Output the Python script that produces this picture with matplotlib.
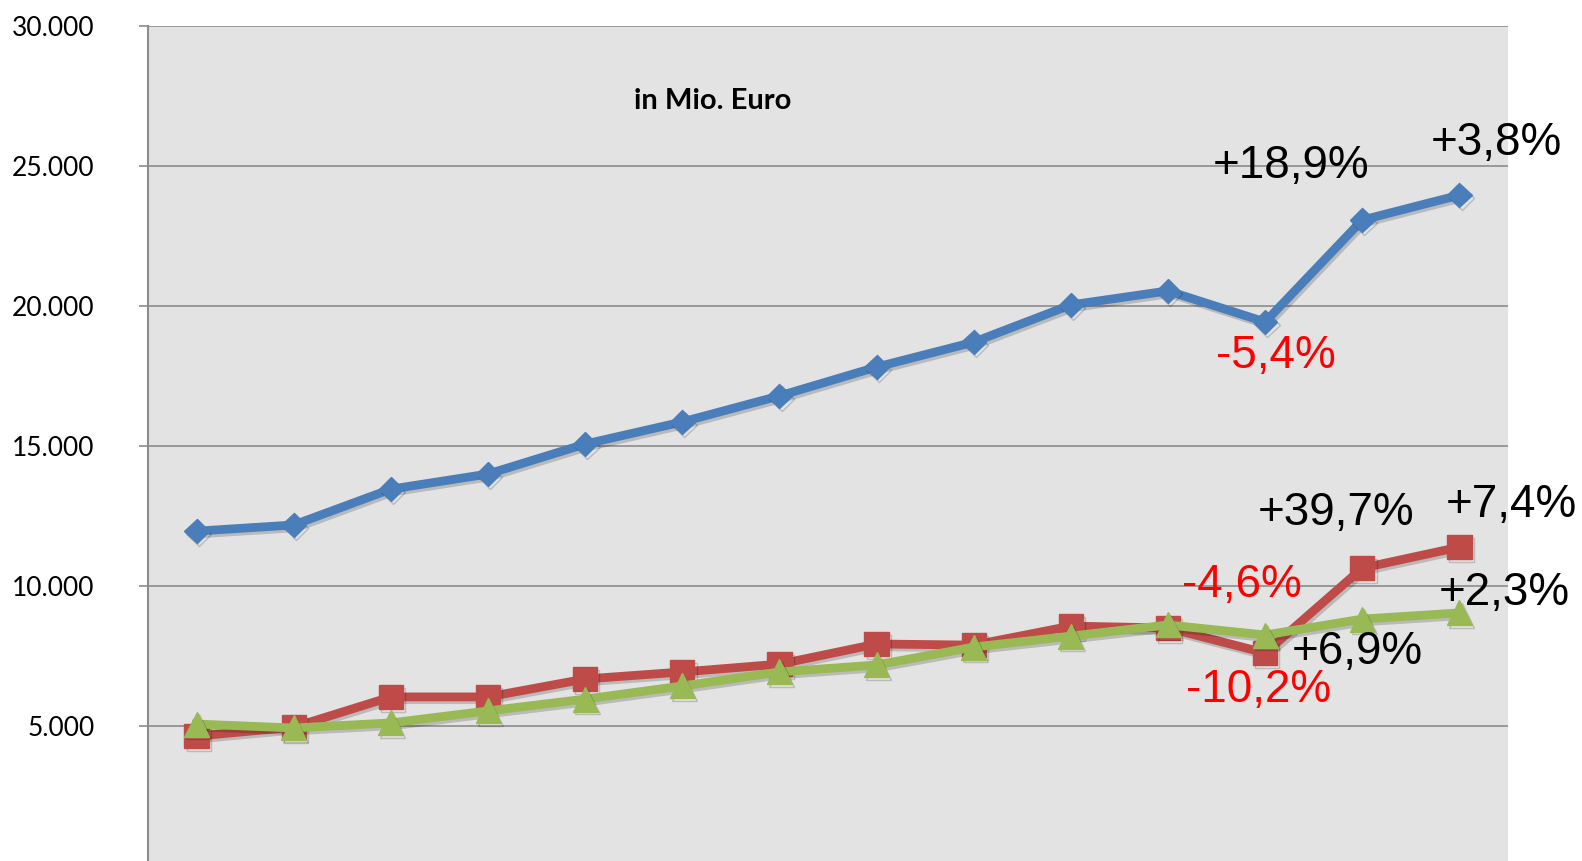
import matplotlib
matplotlib.use("Agg")
import matplotlib.pyplot as plt
import matplotlib.patheffects as pe
import numpy as np

# values in Mio. Euro
blue = [11960, 12180, 13460, 14000, 15070, 15860, 16790, 17820, 18710, 20040, 20540, 19430, 23070, 23960]
red = [4640, 4960, 6040, 6040, 6680, 6930, 7210, 7930, 7890, 8570, 8500, 7610, 10640, 11390]
green = [5070, 4930, 5110, 5540, 5960, 6430, 6930, 7180, 7820, 8210, 8610, 8250, 8820, 9040]

yticks = [5000, 10000, 15000, 20000, 25000, 30000]
ytick_labels = ["5.000", "10.000", "15.000", "20.000", "25.000", "30.000"]

# change labels: (series, point index, text, colour, dx px, dy px)
notes = [
    ("blue", 12, "+18,9%", "black", -71, 42),
    ("blue", 13, "+3,8%", "black", 37, 40),
    ("blue", 11, "-5,4%", "red", 11, -46),
    ("red", 12, "+39,7%", "black", -26, 43),
    ("red", 13, "+7,4%", "black", 52, 30),
    ("red", 11, "-10,2%", "red", -7, -49),
    ("green", 11, "-4,6%", "red", -23, 38),
    ("green", 12, "+6,9%", "black", -5, -45),
    ("green", 13, "+2,3%", "black", 45, 8),
]


def main():
    fig = plt.figure(figsize=(15.82, 8.61), dpi=100)
    ax = fig.add_axes([148 / 1582, 0, 1360 / 1582, 835 / 861])
    ax.set_facecolor("#e3e3e3")

    x = np.arange(len(blue))
    series = {
        "blue": (blue, "#4a7ebb", "D", 12.5),
        "red": (red, "#be4b48", "s", 17.5),
        "green": (green, "#98b954", "^", 18),
    }
    shadow = [pe.SimpleLineShadow(offset=(1.5, -2), shadow_color="black", alpha=0.18), pe.Normal()]
    for z, (name, (vals, col, mk, ms)) in enumerate(series.items()):
        ax.plot(x, vals, color=col, lw=6.3, marker=mk, markersize=ms,
                markeredgecolor=col, markeredgewidth=1, zorder=3 + z,
                path_effects=shadow)

    ax.set_xlim(-0.5, len(blue) - 0.5)
    ax.set_ylim(179, 30000)
    ax.set_yticks(yticks)
    ax.set_yticklabels(ytick_labels, fontfamily="Lato", fontsize=19)
    ax.set_xticks([])
    ax.tick_params(axis="y", length=6.5, width=1.2, color="#8c8c8c", pad=32)
    ax.grid(axis="y", color="#8c8c8c", lw=1.2)
    ax.set_axisbelow(True)
    for s in ["top", "right", "bottom"]:
        ax.spines[s].set_visible(False)
    ax.spines["left"].set_color("#8c8c8c")
    ax.spines["left"].set_linewidth(1.5)

    ax.text(713, 861 - 101, "in Mio. Euro", transform=None, ha="center", va="center",
            fontfamily="Lato", fontweight="bold", fontsize=21)

    for name, i, txt, col, dx, dy in notes:
        vals = series[name][0]
        ax.annotate(txt, xy=(x[i], vals[i]), xytext=(dx, dy), textcoords="offset pixels",
                    ha="center", va="baseline", color=col, fontsize=33,
                    fontfamily="Liberation Sans", zorder=10, annotation_clip=False)

    fig.savefig("out.png", dpi=100)


if __name__ == "__main__":
    main()
